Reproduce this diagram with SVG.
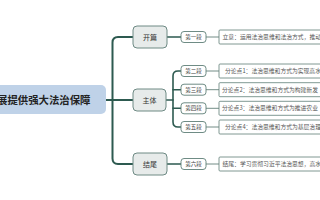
<svg xmlns="http://www.w3.org/2000/svg" width="320" height="200" viewBox="0 0 320 200">
<style>
text{font-family:"Noto Sans CJK SC","Noto Sans",sans-serif}
.main{fill:none;stroke:#2d5a50;stroke-width:2;stroke-linecap:round;stroke-linejoin:round}
.sub{fill:none;stroke:#2d5a50;stroke-width:1.6;stroke-linecap:round;stroke-linejoin:round}
.thin{fill:none;stroke:#4f7068;stroke-width:0.8}
.l2 rect{fill:#e7ebea;stroke:#6e8a84;stroke-width:1}
.l2 text{font-size:7px;fill:#333;text-anchor:middle}
.l3 rect{fill:#fff;stroke:#5f7f77;stroke-width:0.9}
.l3 text{font-size:5.5px;fill:#444;text-anchor:middle}
.l4 rect{fill:#fff;stroke:#5f7f77;stroke-width:0.8}
.l4 text{font-size:5.8px;fill:#555}
</style>
<rect width="320" height="200" fill="#ffffff"/>
<g id="connectors">
<path class="main" d="M105,100 H133"/>
<path class="main" d="M133,37 H118 Q112.5,37 112.5,42.5 V158.5 Q112.5,164 118,164 H133"/>
<path class="sub" d="M167,37 H181"/>
<path class="sub" d="M166,100 H173"/>
<path class="sub" d="M181,71 H178 Q173,71 173,76 V122 Q173,127 178,127 H181"/>
<path class="sub" d="M173,89.7 H181 M173,108.3 H181"/>
<path class="sub" d="M167,164 H181"/>
<path class="thin" d="M206,37 H219 M206,71 H219 M206,89.7 H219 M206,108.3 H219 M206,127 H219 M206,164 H219"/>
</g>
<g id="root">
<rect x="-20" y="85" width="126" height="29" rx="5" fill="#bfd2e8"/>
<text x="-3" y="103.5" font-size="10.4" font-weight="bold" fill="#222">展提供强大法治保障</text>
</g>
<g id="kaipian" class="l2"><rect x="133" y="26" width="34" height="22" rx="4"/><text x="150" y="39.5">开篇</text></g>
<g id="zhuti" class="l2"><rect x="133" y="89" width="33" height="22" rx="4"/><text x="149.5" y="102.5">主体</text></g>
<g id="jiewei" class="l2"><rect x="133" y="153" width="34" height="22" rx="4"/><text x="150" y="166.5">结尾</text></g>
<g id="d1" class="l3"><rect x="181" y="31.5" width="25" height="11" rx="3"/><text x="193.5" y="39">第一段</text></g>
<g id="d2" class="l3"><rect x="181" y="65.5" width="25" height="11" rx="3"/><text x="193.5" y="73">第二段</text></g>
<g id="d3" class="l3"><rect x="181" y="84.2" width="25" height="11" rx="3"/><text x="193.5" y="91.7">第三段</text></g>
<g id="d4" class="l3"><rect x="181" y="102.8" width="25" height="11" rx="3"/><text x="193.5" y="110.3">第四段</text></g>
<g id="d5" class="l3"><rect x="181" y="121.5" width="25" height="11" rx="3"/><text x="193.5" y="129">第五段</text></g>
<g id="d6" class="l3"><rect x="181" y="158.5" width="25" height="11" rx="3"/><text x="193.5" y="166">第六段</text></g>
<g id="t1" class="l4"><rect x="219" y="30" width="120" height="14" rx="1"/><text x="222.5" y="39">立意：运用法治思维和法治方式，推动</text></g>
<g id="t2" class="l4"><rect x="219" y="64" width="120" height="14" rx="1"/><text x="225" y="73">分论点1：法治思维和方式为实现高水</text></g>
<g id="t3" class="l4"><rect x="219" y="82.7" width="120" height="14" rx="1"/><text x="222" y="91.7">分论点2：法治思维和方式为构建新发</text></g>
<g id="t4" class="l4"><rect x="219" y="101.3" width="120" height="14" rx="1"/><text x="222" y="110.3">分论点3：法治思维和方式为推进农业</text></g>
<g id="t5" class="l4"><rect x="219" y="120" width="120" height="14" rx="1"/><text x="225" y="129">分论点4：法治思维和方式为基层治理</text></g>
<g id="t6" class="l4"><rect x="219" y="157" width="120" height="14" rx="1"/><text x="222.5" y="166">结尾：学习贯彻习近平法治思想，高水</text></g>
</svg>
